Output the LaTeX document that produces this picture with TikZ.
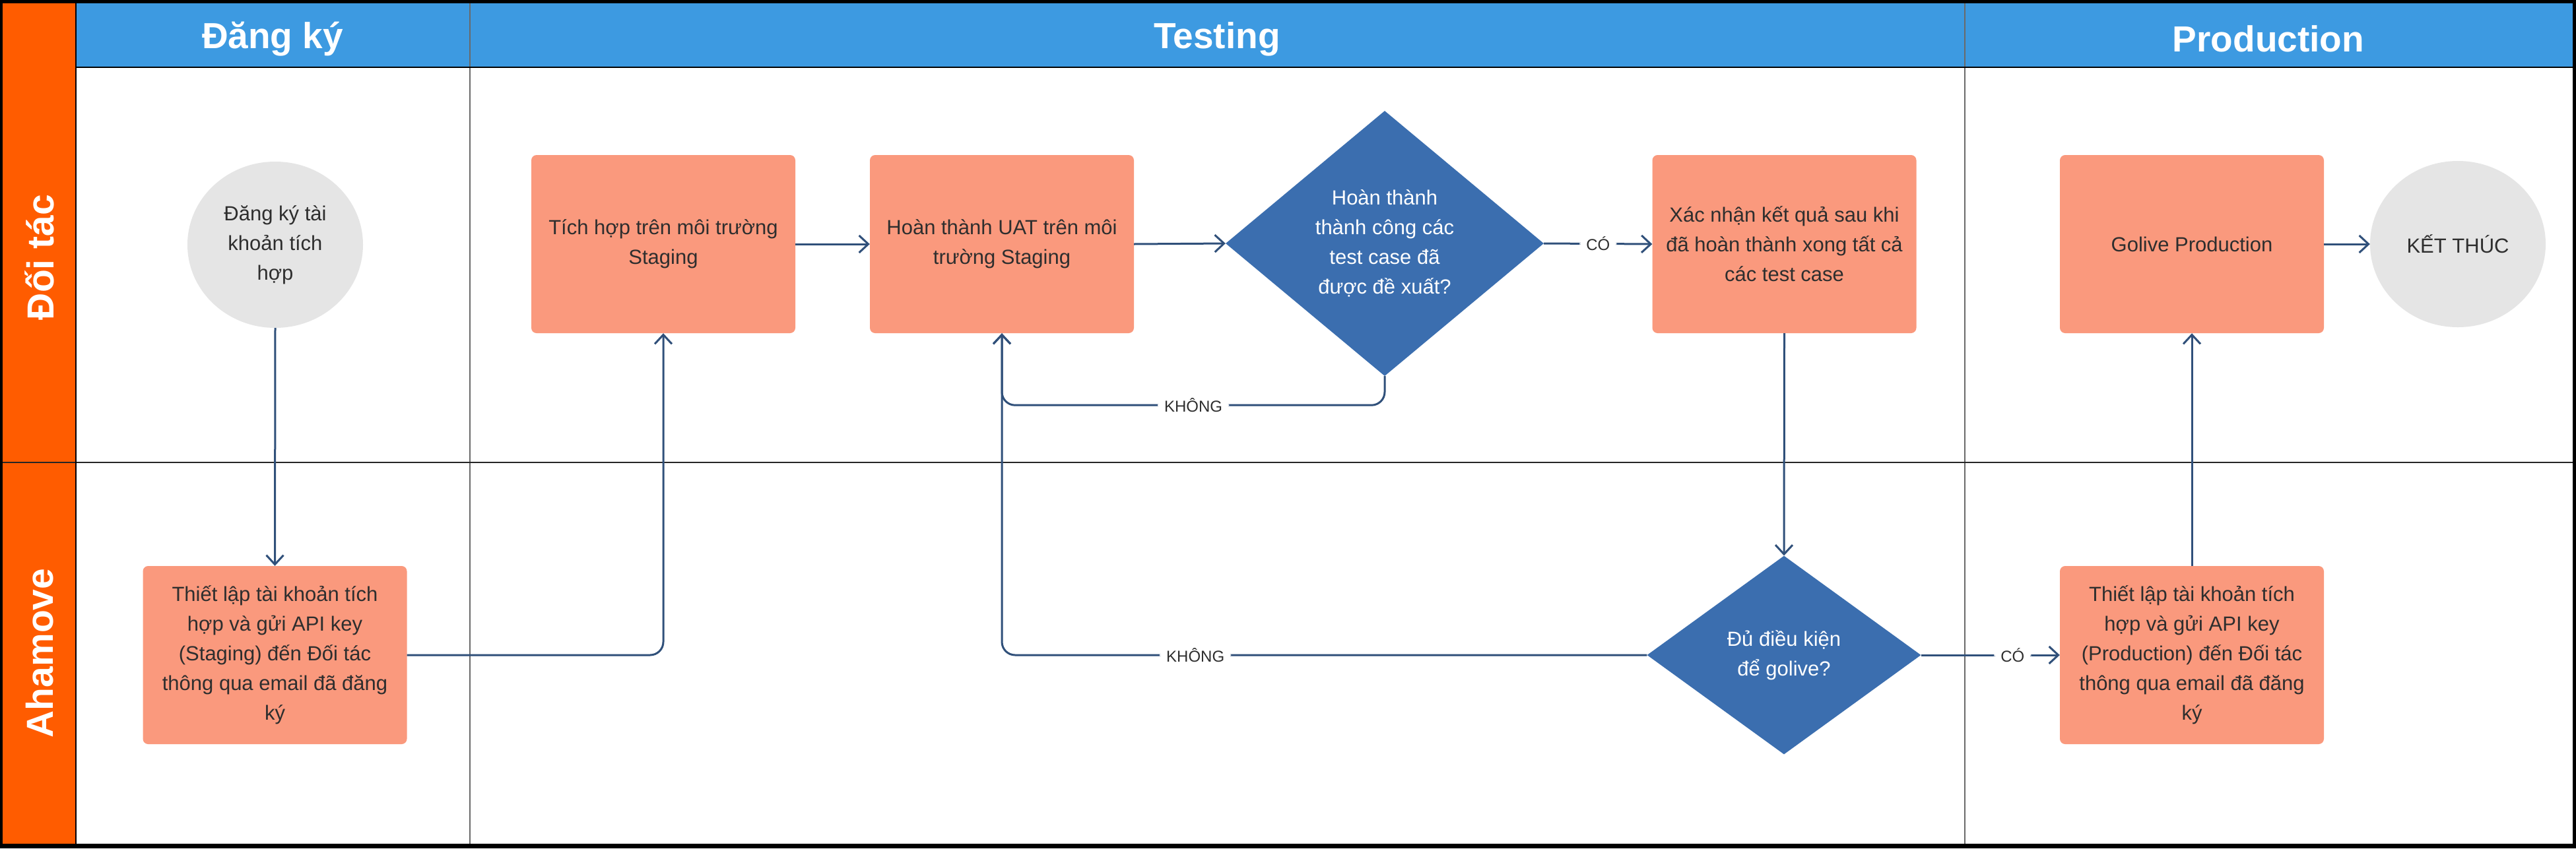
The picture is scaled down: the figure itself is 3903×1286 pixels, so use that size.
\documentclass[tikz,border=0pt]{standalone}
\usepackage{fontspec}
\setmainfont{Liberation Sans}
\usetikzlibrary{arrows.meta,shapes.geometric}
\definecolor{hdrblue}{HTML}{3D9AE1}
\definecolor{laneorange}{HTML}{FF5C00}
\definecolor{salmon}{HTML}{FA997D}
\definecolor{termgray}{HTML}{E5E5E5}
\definecolor{decblue}{HTML}{3B6EAF}
\definecolor{linec}{HTML}{30507A}
\definecolor{txt}{HTML}{2E2E2E}
\definecolor{divgray}{HTML}{6A6A6A}
\tikzset{
  proc/.style={rectangle, rounded corners=8pt, fill=salmon, minimum width=400pt, minimum height=270pt,
    align=center, text=txt, inner sep=0pt, font=\fontsize{31}{45}\selectfont},
  term/.style={ellipse, fill=termgray, minimum width=266pt, minimum height=252pt,
    align=center, text=txt, inner sep=0pt, font=\fontsize{31}{45}\selectfont},
  dec/.style={diamond, fill=decblue, align=center, text=white, inner sep=0pt, font=\fontsize{31}{45}\selectfont},
  conn/.style={draw=linec, line width=3pt, rounded corners=20pt, -{Straight Barb[length=14pt,width=26pt]}},
  lbl/.style={fill=white, text=txt, inner xsep=10pt, inner ysep=4pt, font=\fontsize{24}{28}\selectfont},
  hdr/.style={text=white, font=\fontsize{55}{62}\selectfont\bfseries},
  lanelbl/.style={text=white, rotate=90, font=\fontsize{57}{64}\selectfont\bfseries},
  divline/.style={draw=divgray, line width=2pt}
}
\begin{document}
\begin{tikzpicture}[x=1pt,y=-1pt]
\useasboundingbox (0,0) rectangle (3903,1286);
% frame and lanes
\fill[black] (0,0) rectangle (3903,1286);
\fill[white] (4,5) rectangle (3898,1279);
\fill[laneorange] (4,5) rectangle (115,1279);
\fill[hdrblue] (115,5) rectangle (3898,102);
\draw[divline] (712,5) -- (712,1279);
\draw[divline] (2977,5) -- (2977,1279);
\draw[draw=black!85, line width=2pt] (4,701) -- (3898,701);
\draw[black, line width=2.5pt] (115,102) -- (3898,102);
\draw[black, line width=2.5pt] (115,5) -- (115,1279);
% headers
\node[hdr] (h1) at (413,59) {Đăng ký};
\node[hdr] (h2) at (1844,59) {Testing};
\node[hdr] (h3) at (3437,59) {Production};
\node[lanelbl] (l1) at (60,390) {Đối tác};
\node[lanelbl] (l2) at (60,990) {Ahamove};
% nodes
\node[term] (c1) at (417,371) {Đăng ký tài\\khoản tích\\hợp};
\node[proc] (b2) at (416.5,993) {Thiết lập tài khoản tích\\hợp và gửi API key\\(Staging) đến Đối tác\\thông qua email đã đăng\\ký};
\node[proc] (b3) at (1005,370) {Tích hợp trên môi trường\\Staging};
\node[proc] (b4) at (1518,370) {Hoàn thành UAT trên môi\\trường Staging};
\node[dec, minimum width=482pt, minimum height=402pt] (d1) at (2098,369) {Hoàn thành\\thành công các\\test case đã\\được đề xuất?};
\node[proc] (b5) at (2703.5,370) {Xác nhận kết quả sau khi\\đã hoàn thành xong tất cả\\các test case};
\node[dec, minimum width=415pt, minimum height=301pt] (d2) at (2703,993) {Đủ điều kiện\\để golive?};
\node[proc] (b6) at (3321,993) {Thiết lập tài khoản tích\\hợp và gửi API key\\(Production) đến Đối tác\\thông qua email đã đăng\\ký};
\node[proc] (b7) at (3321,370) {Golive Production};
\node[term] (e2) at (3724,370) {KẾT THÚC};
% connectors
\draw[conn] (c1.south) -- (b2.north);
\draw[conn] (b2.east) -| (b3.south);
\draw[conn] (b3.east) -- (b4.west);
\draw[conn] (b4.east) -- (d1.west);
\draw[conn] (d1.east) -- node[lbl]{CÓ} (b5.west);
\draw[conn] (d1.south) -- ++(0,44) -| node[lbl,pos=0.25]{KHÔNG} (b4.south);
\draw[conn] (d2.west) -| node[lbl,pos=0.35]{KHÔNG} (b4.south);
\draw[conn] (b5.south) -- (d2.north);
\draw[conn] (d2.east) -- node[lbl,pos=0.66]{CÓ} (b6.west);
\draw[conn] (b6.north) -- (b7.south);
\draw[conn] (b7.east) -- (e2.west);
\end{tikzpicture}
\end{document}
